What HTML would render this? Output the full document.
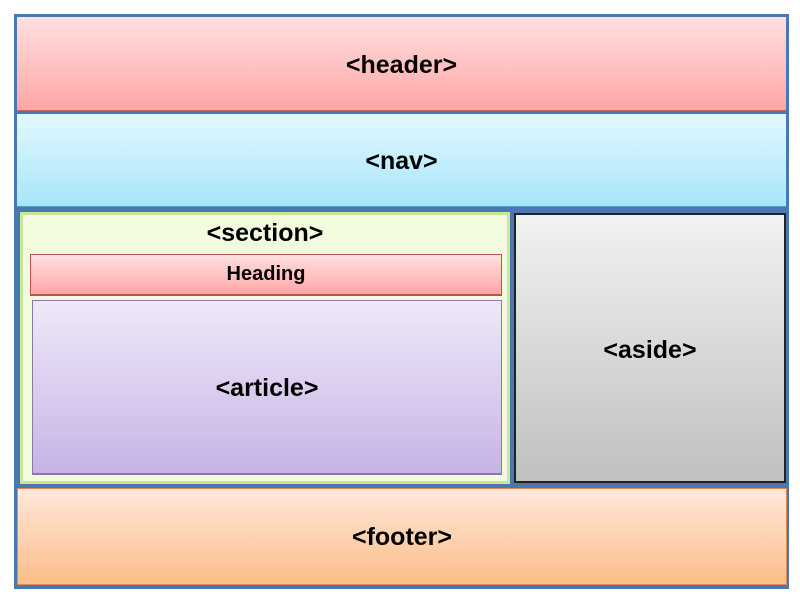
<!DOCTYPE html>
<html><head><style>
body{margin:0;width:800px;height:600px;background:#fff;position:relative;font-family:"Liberation Sans",sans-serif;font-weight:bold;color:#000}
div{position:absolute;box-sizing:border-box;display:flex;align-items:center;justify-content:center}
</style></head><body>
<div style="left:14px;top:14px;width:775px;height:575px;background:#4a78b4"></div>
<div style="left:17px;top:17px;width:769px;height:94px;padding-top:4px;background:linear-gradient(#ffe0e0,#ffa6a6);border-bottom:1px solid #c06060;font-size:25px">&lt;header&gt;</div>
<div style="left:17px;top:114px;width:769px;height:93px;padding-top:2px;background:linear-gradient(#e3f8ff,#a6e6fa);border-bottom:1px solid #5aa0c0;font-size:25px">&lt;nav&gt;</div>
<div style="left:20px;top:212px;width:490px;height:272px;background:#f3fbdf;border:3px solid #c8e896"></div>
<div style="left:20px;top:218px;width:490px;height:30px;font-size:25px">&lt;section&gt;</div>
<div style="left:30px;top:254px;width:472px;height:42px;background:linear-gradient(#ffe0e0,#ffa6a6);border:1px solid #c0504d;border-width:1px 1px 2px 1px;font-size:20px">Heading</div>
<div style="left:32px;top:300px;width:470px;height:175px;padding-top:2px;background:linear-gradient(#efe8f8,#c7b4e6);border:1px solid #8a78a8;border-width:1px 1px 2px 1px;font-size:25px">&lt;article&gt;</div>
<div style="left:514px;top:213px;width:272px;height:270px;padding-top:4px;background:linear-gradient(#f2f2f2,#c0c0c0);border:2px solid #222;font-size:25px">&lt;aside&gt;</div>
<div style="left:17px;top:488px;width:770px;height:97px;padding-top:2px;background:linear-gradient(#ffe8da,#fcbd88);border:1px solid #e08a50;font-size:25px">&lt;footer&gt;</div>
</body></html>
